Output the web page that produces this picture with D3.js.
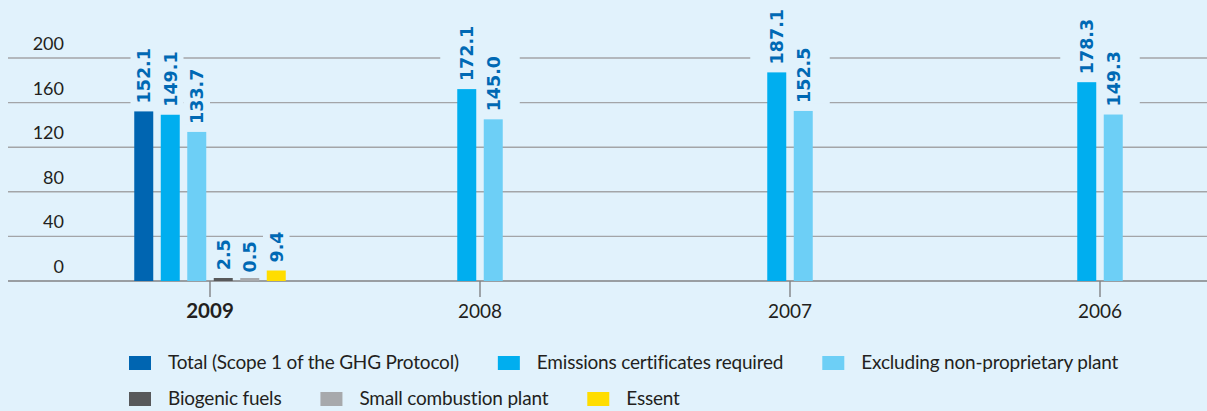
<!DOCTYPE html>
<html>
<head>
<meta charset="utf-8">
<script src="https://cdn.jsdelivr.net/npm/d3@7"></script>
<style>
  html, body { margin: 0; padding: 0; background: #e1f2fc; }
  svg { display: block; }
</style>
</head>
<body>
<div id="chart"></div>
<script>
// Data
const years = ["2009", "2008", "2007", "2006"];
const seriesNames = [
  "Total (Scope 1 of the GHG Protocol)",
  "Emissions certificates required",
  "Excluding non-proprietary plant",
  "Biogenic fuels",
  "Small combustion plant",
  "Essent"
];
const totalValues = [152.1, null, null, null];
const certificateValues = [149.1, 172.1, 187.1, 178.3];
const excludingValues = [133.7, 145.0, 152.5, 149.3];
const biogenicValues = [2.5, null, null, null];
const smallPlantValues = [0.5, null, null, null];
const essentValues = [9.4, null, null, null];
const yTicks = [0, 40, 80, 120, 160, 200];

const seriesValues = [totalValues, certificateValues, excludingValues, biogenicValues, smallPlantValues, essentValues];
const colors = ["#0065b1", "#00aeef", "#6dcff6", "#58595b", "#a7a9ac", "#ffdd00"];

const width = 1207;
const height = 411;
const bg = "#e1f2fc";
const textColor = "#231f20";
const labelColor = "#0069b4";
const step = 26.5;
const barW = 19;

const svg = d3.select("#chart").append("svg")
  .attr("width", width)
  .attr("height", height);

svg.append("rect").attr("width", width).attr("height", height).attr("fill", bg);

// Scales
const y = d3.scaleLinear().domain([0, 200]).range([281, 58]);
// year index -> tick position (the first group is wider)
const x = d3.scaleLinear().domain([0, 1, 3]).range([210, 480, 1100]);

// Gridlines + y labels
const grid = svg.append("g");
grid.selectAll("line")
  .data(yTicks)
  .join("line")
  .attr("x1", 8)
  .attr("x2", width)
  .attr("y1", d => y(d))
  .attr("y2", d => y(d))
  .attr("stroke", d => d === 0 ? "#808285" : "#a3a5a8")
  .attr("stroke-width", 1.4);

grid.selectAll("text")
  .data(yTicks)
  .join("text")
  .attr("x", 64)
  .attr("y", d => y(d) - 8)
  .attr("text-anchor", "end")
  .attr("font-family", "Lato, 'Open Sans', sans-serif")
  .attr("font-size", 18)
  .attr("fill", textColor)
  .text(d => d);

// Groups of bars (only the series that have a value in that year)
const groups = years.map((yr, i) => ({
  year: yr,
  index: i,
  bars: seriesValues
    .map((vals, s) => ({ series: s, value: vals[i] }))
    .filter(d => d.value !== null)
}));

const gGroups = svg.append("g").selectAll("g")
  .data(groups)
  .join("g")
  .attr("transform", d => `translate(${x(d.index)},0)`);

gGroups.each(function (g) {
  const n = g.bars.length;
  const span = n * step - (step - barW);
  const xb = d3.scaleBand()
    .domain(g.bars.map(d => d.series))
    .range([-span / 2, span / 2])
    .paddingInner((step - barW) / step)
    .paddingOuter(0);
  const boxW = n > 2 ? step : 2 * step;
  const sel = d3.select(this);

  const maskLayer = sel.append("g");
  const barLayer = sel.append("g");
  const labelLayer = sel.append("g");

  const labelPos = d => `translate(${xb(d.series) + xb.bandwidth() / 2},${y(d.value) - 8}) rotate(-90)`;

  // value labels, rotated
  const labels = labelLayer.selectAll("text")
    .data(g.bars)
    .join("text")
    .attr("transform", labelPos)
    .attr("dy", "0.36em")
    .attr("font-family", "'DejaVu Sans', Verdana, sans-serif")
    .attr("font-weight", "bold")
    .attr("font-size", 17.5)
    .attr("fill", labelColor)
    .text(d => d.value.toFixed(1));

  // boxes in the background colour that cut the gridlines behind the labels
  labels.each(function (d) {
    const len = this.getComputedTextLength();
    maskLayer.append("rect")
      .attr("transform", labelPos(d))
      .attr("x", -1)
      .attr("y", -boxW / 2)
      .attr("width", len + 2)
      .attr("height", boxW)
      .attr("fill", bg);
  });

  barLayer.selectAll("rect")
    .data(g.bars)
    .join("rect")
    .attr("x", d => xb(d.series))
    .attr("width", xb.bandwidth())
    .attr("y", d => Math.min(y(d.value), y(0) - 3))
    .attr("height", d => Math.max(y(0) - y(d.value), 3))
    .attr("fill", d => colors[d.series]);
});

// X ticks and year labels
const xAxis = svg.append("g");
xAxis.selectAll("line")
  .data(groups)
  .join("line")
  .attr("x1", d => x(d.index))
  .attr("x2", d => x(d.index))
  .attr("y1", 281)
  .attr("y2", 297)
  .attr("stroke", "#808285")
  .attr("stroke-width", 1.4);

xAxis.selectAll("text")
  .data(groups)
  .join("text")
  .attr("x", d => x(d.index))
  .attr("y", 318)
  .attr("text-anchor", "middle")
  .attr("font-family", "Lato, 'Open Sans', sans-serif")
  .attr("font-size", d => d.index === 0 ? 20.5 : 19)
  .attr("font-weight", d => d.index === 0 ? "bold" : "normal")
  .attr("fill", textColor)
  .text(d => d.year);

// Legend (two rows, flowing)
const legendRows = [[0, 1, 2], [3, 4, 5]];
const legend = svg.append("g");
legendRows.forEach((row, r) => {
  let lx = 129;
  const ly = 356 + r * 36;
  row.forEach(s => {
    legend.append("rect")
      .attr("x", lx)
      .attr("y", ly)
      .attr("width", 22)
      .attr("height", 14)
      .attr("fill", colors[s]);
    const t = legend.append("text")
      .attr("x", lx + 39)
      .attr("y", ly + 13)
      .attr("font-family", "Lato, 'Open Sans', sans-serif")
      .attr("font-size", 19)
      .attr("letter-spacing", -0.2)
      .attr("fill", textColor)
      .text(seriesNames[s]);
    lx += 39 + t.node().getComputedTextLength() + 39;
  });
});
</script>
</body>
</html>
